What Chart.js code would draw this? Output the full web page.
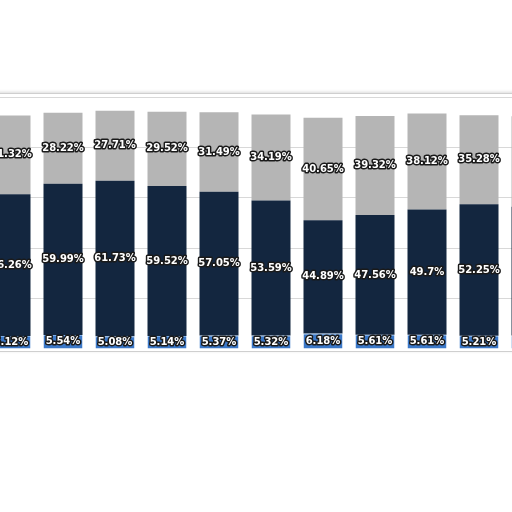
<!DOCTYPE html>
<html>
<head>
<meta charset="utf-8">
<script src="https://cdn.jsdelivr.net/npm/chart.js@4"></script>
<style>
  body { margin: 0; background: #fff; overflow: hidden; }
  #panel { position: absolute; left: -4px; top: 93px; width: 518px; height: 257px;
           border: 1px solid #cfcfcf; box-shadow: 0 -1px 3px rgba(0,0,0,0.15); background: #fff; }
  #wrap { position: absolute; left: -15px; top: 97px; width: 572px; height: 252px; }
</style>
</head>
<body>
<div id="panel"></div>
<div id="wrap"><canvas id="c"></canvas></div>
<script>
// Valores (última barra está cortada, estimada)
const labels = ['1', '2', '3', '4', '5', '6', '7', '8', '9', '10', '11'];
const baixo = [5.12, 5.54, 5.08, 5.14, 5.37, 5.32, 6.18, 5.61, 5.61, 5.21, 5.4];
const meio = [56.26, 59.99, 61.73, 59.52, 57.05, 53.59, 44.89, 47.56, 49.7, 52.25, 51.0];
const topo = [31.32, 28.22, 27.71, 29.52, 31.49, 34.19, 40.65, 39.32, 38.12, 35.28, 36.0];

// Rótulos brancos com contorno escuro no centro de cada segmento
const segLabels = {
  id: 'segLabels',
  afterDatasetsDraw(chart) {
    const ctx = chart.ctx;
    ctx.save();
    ctx.font = 'bold 10px "DejaVu Sans"';
    ctx.textAlign = 'center';
    ctx.textBaseline = 'middle';
    ctx.lineJoin = 'round';
    chart.data.datasets.forEach((ds, i) => {
      chart.getDatasetMeta(i).data.forEach((bar, j) => {
        const t = ds.data[j] + '%';
        const y = (bar.y + bar.base) / 2;
        ctx.lineWidth = 3;
        ctx.strokeStyle = '#1a1a1a';
        ctx.strokeText(t, bar.x, y);
        ctx.fillStyle = '#ffffff';
        ctx.fillText(t, bar.x, y);
      });
    });
    ctx.restore();
  }
};

new Chart(document.getElementById('c'), {
  type: 'bar',
  data: {
    labels: labels,
    datasets: [
      { data: baixo, backgroundColor: '#3b78c8', borderColor: '#7fb0ea', borderWidth: { top: 1 } },
      { data: meio, backgroundColor: '#13263f', borderColor: '#13263f', borderWidth: 0 },
      { data: topo, backgroundColor: '#b5b5b5', borderColor: '#ffffff', borderWidth: { bottom: 1 } }
    ]
  },
  options: {
    responsive: true, maintainAspectRatio: false, animation: false,
    layout: { padding: 0 },
    datasets: { bar: { categoryPercentage: 1, barPercentage: 0.75 } },
    plugins: { legend: { display: false }, tooltip: { enabled: false } },
    scales: {
      x: { stacked: true, display: false },
      y: {
        stacked: true, min: 0, max: 100,
        ticks: { display: false, stepSize: 20 },
        border: { display: false },
        grid: { drawTicks: false, color: '#d8d8d8', tickBorderDash: [2, 2] }
      }
    }
  },
  plugins: [segLabels]
});
</script>
</body>
</html>
